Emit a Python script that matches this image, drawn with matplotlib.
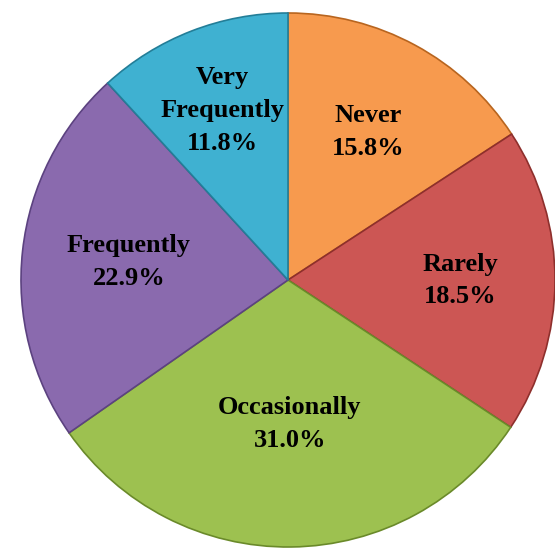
import numpy as np
import matplotlib.pyplot as plt

# survey answer shares, clockwise from 12 o'clock
categories = ["Never", "Rarely", "Occasionally", "Frequently", "Very\nFrequently"]
shares = [15.8, 18.5, 31.0, 22.9, 11.8]
colors = ["#F79A4E", "#CC5654", "#9DC150", "#8A6AAE", "#3FB1D1"]
edges = ["#B8651F", "#8E2F2C", "#6A8A2A", "#5C4280", "#237E98"]

# how far out each label sits, as a fraction of the radius
label_r = [0.63, 0.645, 0.54, 0.6, 0.68]

fig = plt.figure(figsize=(5.55, 5.52), dpi=100)
ax = fig.add_axes([0, 0, 1, 1])

cx, cy, R = 288, 272, 267
labels = [f"{c}\n{v:.1f}%" for c, v in zip(categories, shares)]
wedges, texts = ax.pie(
    shares,
    labels=labels,
    colors=colors,
    startangle=90,
    counterclock=False,
    center=(cx, cy),
    radius=R,
    wedgeprops=dict(linewidth=1.2),
    textprops=dict(family=["Liberation Serif", "DejaVu Serif"], fontsize=19,
                   fontweight="bold", color="black", linespacing=1.55),
    frame=True,
)
for w, ec, t, f in zip(wedges, edges, texts, label_r):
    w.set_edgecolor(ec)
    mid = np.deg2rad((w.theta1 + w.theta2) / 2)
    t.set_position((cx + f * R * np.cos(mid), cy + f * R * np.sin(mid)))
    t.set_horizontalalignment("center")
    t.set_verticalalignment("center")

ax.set_xlim(0, 555)
ax.set_ylim(0, 552)
ax.set_aspect("equal")
ax.axis("off")

fig.savefig("out.png", dpi=100)
